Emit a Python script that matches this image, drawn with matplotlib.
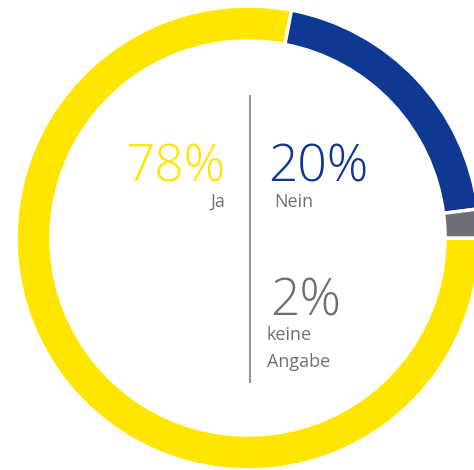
import matplotlib.pyplot as plt

labels = ['Ja', 'Nein', 'keine\nAngabe']
shares = [78, 20, 2]
colors = ['#FFE600', '#0F3893', '#6E6E76']
label_color = '#707070'

W, H = 474, 470

fig = plt.figure(figsize=(W / 100, H / 100), dpi=100)
ax = fig.add_axes([0, 0, 1, 1])

cx, cy = 248, H - 238
r_out, ring = 232, 35

ax.pie(shares, colors=colors, startangle=0, counterclock=False,
       center=(cx, cy), radius=r_out, frame=True,
       wedgeprops=dict(width=ring, edgecolor='white', linewidth=2.5))
ax.set_xlim(0, W)
ax.set_ylim(0, H)
ax.set_aspect('equal')
ax.axis('off')

# divider
ax.plot([250, 250], [H - 96, H - 382], color='#9A9A9A', lw=1.5)

font = ['Open Sans', 'DejaVu Sans']
big = 37
small = 13

ax.text(226, H - 182, f'{shares[0]}%', color=colors[0], fontsize=big,
        family=font, weight='light', ha='right', va='baseline')
ax.text(225, H - 207, labels[0], color=label_color, fontsize=small,
        family=font, weight='medium', ha='right', va='baseline')

ax.text(268, H - 182, f'{shares[1]}%', color=colors[1], fontsize=big,
        family=font, weight='light', ha='left', va='baseline')
ax.text(274, H - 207, labels[1], color=label_color, fontsize=small,
        family=font, weight='medium', ha='left', va='baseline')

ax.text(270, H - 315, f'{shares[2]}%', color=colors[2], fontsize=big,
        family=font, weight='light', ha='left', va='baseline')
ax.text(267, H - 340, 'keine', color=label_color, fontsize=small,
        family=font, weight='medium', ha='left', va='baseline')
ax.text(267, H - 367, 'Angabe', color=label_color, fontsize=small,
        family=font, weight='medium', ha='left', va='baseline')

fig.savefig('out.png', dpi=100)
